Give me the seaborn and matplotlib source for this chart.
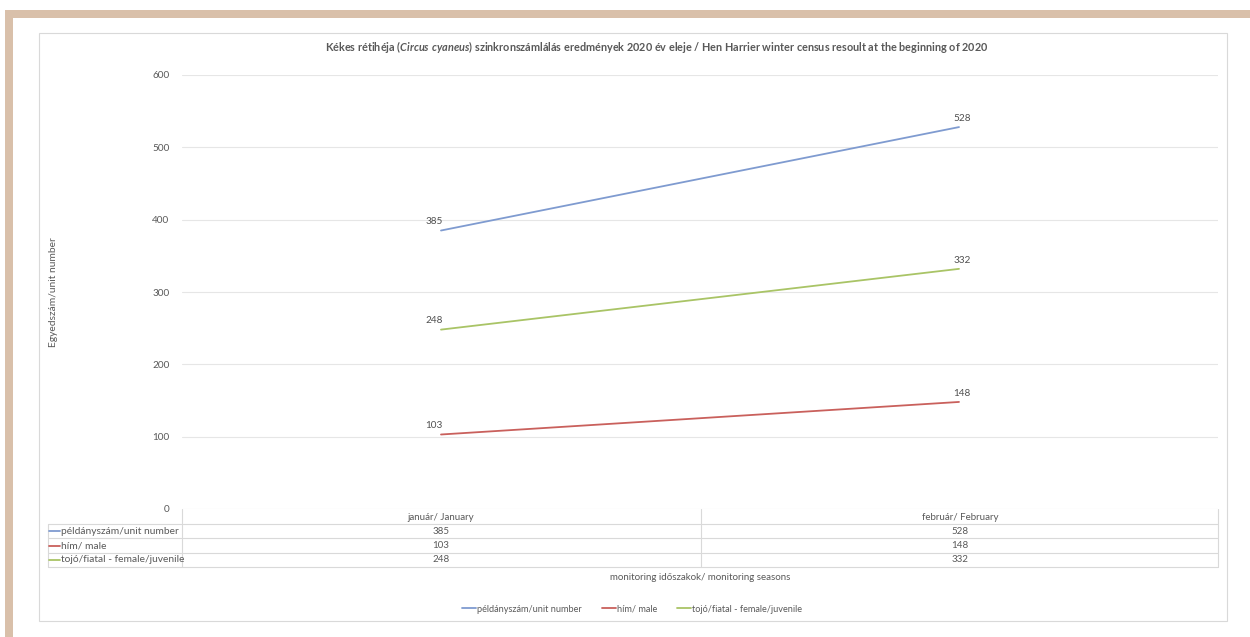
import matplotlib
matplotlib.use("Agg")
import matplotlib.pyplot as plt
from matplotlib.lines import Line2D
from matplotlib.patches import Rectangle
import pandas as pd
import seaborn as sns

# Census data
months = ["január/ January", "február/ February"]
series_names = ["példányszám/unit number", "hím/ male", "tojó/fiatal - female/juvenile"]
total_counts = [385, 528]
male_counts = [103, 148]
female_juv_counts = [248, 332]
y_ticks = [0, 100, 200, 300, 400, 500, 600]

colors = ["#7f9bd0", "#c9605c", "#a9c466"]
text_col = "#595959"
grid_col = "#e6e6e6"

sns.set_theme(style="white")
plt.rcParams["font.family"] = ["Lato", "DejaVu Sans"]
plt.rcParams["mathtext.fontset"] = "custom"
plt.rcParams["mathtext.it"] = "Lato:italic:bold"
plt.rcParams["mathtext.rm"] = "Lato:bold"
plt.rcParams["mathtext.bf"] = "Lato:bold"

W, H = 1250, 637
fig = plt.figure(figsize=(W / 100, H / 100), dpi=100)


def fx(px):
    return px / W


def fy(py):
    return 1 - py / H


# decorative page border
fig.patches.append(Rectangle((fx(5), fy(18)), fx(1245), 8 / H, transform=fig.transFigure,
                             facecolor="#d9c0aa", edgecolor="none", zorder=0))
fig.patches.append(Rectangle((fx(5), 0), fx(8), fy(10), transform=fig.transFigure,
                             facecolor="#d9c0aa", edgecolor="none", zorder=0))
# chart frame
fig.patches.append(Rectangle((fx(39), fy(621)), fx(1188), (621 - 33) / H, transform=fig.transFigure,
                             facecolor="none", edgecolor="#d9d9d9", linewidth=0.8, zorder=0))

ax = fig.add_axes([fx(182), fy(509), fx(1218 - 182), (509 - 75) / H])
ax.patch.set_alpha(0)

df = pd.DataFrame({
    "month": months * 3,
    "value": total_counts + male_counts + female_juv_counts,
    "series": [series_names[0]] * 2 + [series_names[1]] * 2 + [series_names[2]] * 2,
})
sns.lineplot(data=df, x="month", y="value", hue="series", palette=colors,
             hue_order=series_names, linewidth=1.3, legend=False, ax=ax, zorder=3)

ax.set_xlim(-0.5, 1.5)
ax.set_ylim(0, 600)
ax.set_yticks(y_ticks)
ax.set_yticklabels([str(t) for t in y_ticks], color=text_col, fontsize=7.2)
ax.tick_params(axis="y", length=0, pad=9)
ax.set_xticks([])
ax.set_xlabel("")
ax.set_ylabel("")
for s in ax.spines.values():
    s.set_visible(False)
for t in y_ticks:
    ax.axhline(t, color=grid_col, linewidth=0.8, zorder=1)

# data labels
for vals in (total_counts, male_counts, female_juv_counts):
    for i, v in enumerate(vals):
        ax.annotate(str(v), (i, v), xytext=(-5 if i == 0 else 2, 3), textcoords="offset points",
                    ha="center", va="bottom", fontsize=7.2, color="#505050")

# title and axis titles
fig.text(fx(657), fy(47),
         r"Kékes rétihéja ($\it{Circus\ cyaneus}$) szinkronszámlálás eredmények 2020 év eleje / Hen Harrier winter census resoult at the beginning of 2020",
         fontsize=7.8, fontweight="bold", color=text_col, ha="center", va="center")
fig.text(fx(53), fy(292), "Egyedszám/unit number", rotation=90, fontsize=7.4,
         color=text_col, ha="center", va="center")
fig.text(fx(700), fy(577), "monitoring időszakok/ monitoring seasons", fontsize=7,
         color=text_col, ha="center", va="center")

# data table under the plot
line_kw = dict(color="#d9d9d9", linewidth=0.8, transform=fig.transFigure)
for yy in (524, 538, 553, 567):
    fig.add_artist(Line2D([fx(48), fx(1218)], [fy(yy), fy(yy)], **line_kw))
for xx in (182, 701, 1218):
    fig.add_artist(Line2D([fx(xx), fx(xx)], [fy(509), fy(567)], **line_kw))
fig.add_artist(Line2D([fx(48), fx(48)], [fy(524), fy(567)], **line_kw))

col_x = [441, 960]
for j, m in enumerate(months):
    fig.text(fx(col_x[j]), fy(517), m, fontsize=7, color=text_col, ha="center", va="center")
row_y = [531, 546, 560]
for r, (name, vals) in enumerate(zip(series_names, (total_counts, male_counts, female_juv_counts))):
    fig.add_artist(Line2D([fx(49), fx(60)], [fy(row_y[r]), fy(row_y[r])], color=colors[r],
                          linewidth=1.3, transform=fig.transFigure))
    fig.text(fx(61), fy(row_y[r]), name, fontsize=7.4, color=text_col, ha="left", va="center")
    for j, v in enumerate(vals):
        fig.text(fx(col_x[j]), fy(row_y[r]), str(v), fontsize=7, color=text_col,
                 ha="center", va="center")

# legend
handles = [Line2D([0], [0], color=c, linewidth=1.3) for c in colors]
fig.legend(handles, series_names, loc="center", bbox_to_anchor=(fx(632), fy(609)), ncol=3,
           frameon=False, fontsize=6.6, handlelength=1.5, handletextpad=0.1, columnspacing=2.2,
           labelcolor=text_col)

fig.savefig("out.png", dpi=100, facecolor="white")
